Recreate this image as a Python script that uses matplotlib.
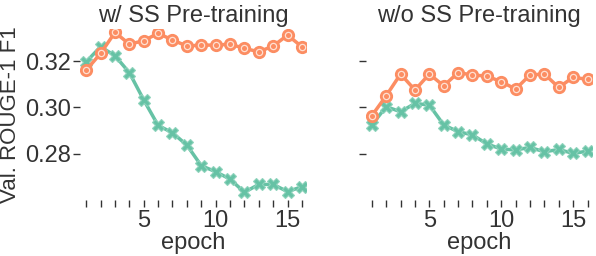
import numpy as np
import matplotlib
matplotlib.use("Agg")
import matplotlib.pyplot as plt
import seaborn as sns

epochs = list(range(1, 17))

# w/ SS pre-training
with_ss_orange = [0.3161, 0.3233, 0.3324, 0.3273, 0.3288, 0.3320, 0.3291, 0.3265,
                  0.3269, 0.3269, 0.3273, 0.3255, 0.3240, 0.3265, 0.3312, 0.3262]
with_ss_green = [0.3197, 0.3262, 0.3223, 0.3150, 0.3032, 0.2922, 0.2890, 0.2837,
                 0.2748, 0.2722, 0.2690, 0.2633, 0.2667, 0.2667, 0.2636, 0.2657]

# w/o SS pre-training
without_ss_orange = [0.2964, 0.3050, 0.3144, 0.3075, 0.3144, 0.3093, 0.3150, 0.3140,
                     0.3135, 0.3111, 0.3079, 0.3140, 0.3144, 0.3086, 0.3130, 0.3121]
without_ss_green = [0.2924, 0.3003, 0.2981, 0.3017, 0.3010, 0.2924, 0.2895, 0.2881,
                    0.2842, 0.2820, 0.2816, 0.2827, 0.2808, 0.2818, 0.2801, 0.2811]

titles = ['w/ SS Pre-training', 'w/o SS Pre-training']
yticks = [0.28, 0.30, 0.32]

sns.set_style('ticks')
plt.rcParams['font.family'] = ['Liberation Sans', 'DejaVu Sans']
plt.rcParams['text.color'] = '#333333'
plt.rcParams['axes.labelcolor'] = '#333333'
plt.rcParams['xtick.color'] = '#333333'
plt.rcParams['ytick.color'] = '#333333'

green = '#66c2a5'
orange = '#fc8d62'
fs = 17

fig, axes = plt.subplots(1, 2, figsize=(5.96, 2.56), dpi=100, sharey=True)
fig.subplots_adjust(left=0.135, right=0.993, top=0.888, bottom=0.219, wspace=0.265)

data = [(with_ss_green, with_ss_orange), (without_ss_green, without_ss_orange)]
for ax, title, (g, o) in zip(axes, titles, data):
    ax.plot(epochs, g, color=green, lw=2.5, marker='X', ms=8.5,
            mfc=green, mec='#8fd3bc', mew=0.8, zorder=3)
    ax.plot(epochs, o, color=orange, lw=2.5, marker='o', ms=8.5,
            mfc=orange, mec=orange, zorder=4)
    ax.plot(epochs, o, ls='none', marker='o', ms=4.5, mfc='none',
            mec='#ffe0d2', mew=0.9, zorder=5)
    ax.set_title(title, fontsize=fs, pad=5)
    ax.set_xlabel('epoch', fontsize=fs, labelpad=0)
    ax.set_xlim(0.6, 16.3)
    ax.set_xticks(epochs)
    ax.set_xticklabels([str(e) if e % 5 == 0 else '' for e in epochs])
    ax.tick_params(labelsize=fs, length=5, width=1, pad=2)
    sns.despine(ax=ax, left=True, bottom=True)

axes[0].set_ylim(0.26, 0.334)
axes[0].set_yticks(yticks)
axes[0].set_yticklabels(['%.2f' % v for v in yticks])
axes[0].set_ylabel('Val. ROUGE-1 F1', fontsize=16, labelpad=3)
axes[1].tick_params(axis='y', labelleft=False)

fig.savefig('out.png', dpi=100)
